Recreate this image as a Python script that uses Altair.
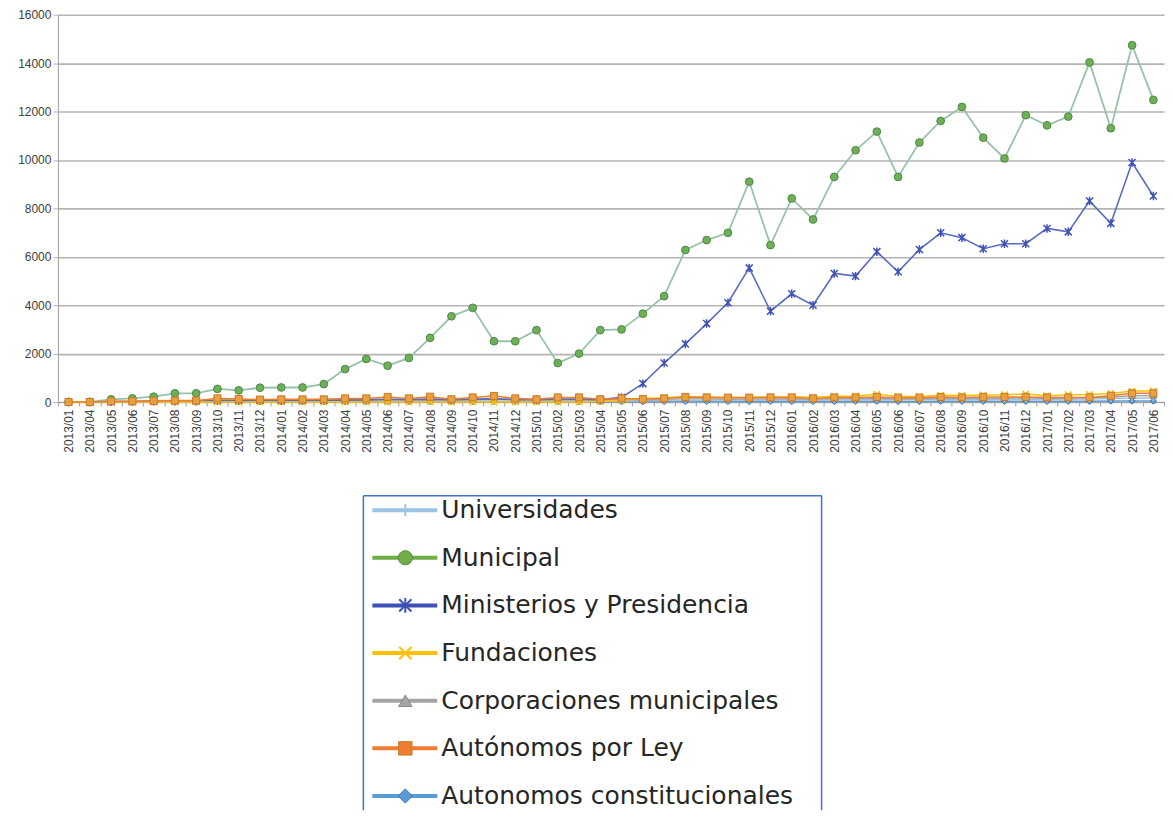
import altair as alt
import pandas as pd

periods = [
    "2013/01", "2013/04", "2013/05", "2013/06", "2013/07", "2013/08", "2013/09", "2013/10", "2013/11", "2013/12",
    "2014/01", "2014/02", "2014/03", "2014/04", "2014/05", "2014/06", "2014/07", "2014/08", "2014/09", "2014/10",
    "2014/11", "2014/12", "2015/01", "2015/02", "2015/03", "2015/04", "2015/05", "2015/06", "2015/07", "2015/08",
    "2015/09", "2015/10", "2015/11", "2015/12", "2016/01", "2016/02", "2016/03", "2016/04", "2016/05", "2016/06",
    "2016/07", "2016/08", "2016/09", "2016/10", "2016/11", "2016/12", "2017/01", "2017/02", "2017/03", "2017/04",
    "2017/05", "2017/06",
]

series_names = [
    "Universidades",
    "Municipal",
    "Ministerios y Presidencia",
    "Fundaciones",
    "Corporaciones municipales",
    "Autónomos por Ley",
    "Autonomos constitucionales",
]

universidades = [0, 0, 0, 10, 10, 10, 10, 20, 20, 20, 20, 20, 20, 30, 30, 30, 30, 40, 30, 40,
                 40, 30, 30, 40, 40, 30, 40, 50, 60, 70, 60, 60, 70, 70, 80, 70, 80, 80, 100, 80,
                 90, 100, 90, 100, 110, 120, 100, 110, 120, 140, 160, 170]
municipal = [0, 0, 110, 150, 220, 360, 360, 540, 480, 590, 600, 600, 740, 1360, 1780, 1500, 1820, 2650, 3540, 3890,
             2510, 2510, 2970, 1610, 2000, 2970, 3000, 3650, 4370, 6280, 6690, 6990, 9100, 6480, 8410, 7540, 9300,
             10400, 11170, 9300, 10720, 11610, 12190, 10920, 10060, 11850, 11430, 11790, 14030, 11310, 14740, 12480]
ministerios = [0, 0, 10, 20, 30, 40, 40, 60, 60, 70, 60, 70, 70, 80, 90, 100, 100, 110, 100, 110,
               130, 100, 100, 110, 110, 100, 190, 760, 1610, 2400, 3240, 4100, 5540, 3750, 4470, 4000, 5310,
               5200, 6210, 5380, 6300, 6990, 6790, 6330, 6540, 6540, 7170, 7030, 8300, 7380, 9890, 8510]
fundaciones = [0, 0, 0, 0, 0, 0, 0, 0, 0, 0, 0, 0, 0, 0, 0, 0, 0, 0, 0, 0,
               0, 0, 0, 0, 0, 20, 60, 150, 180, 230, 210, 200, 200, 210, 220, 200, 240, 250, 320, 230,
               230, 280, 270, 290, 300, 330, 260, 300, 310, 350, 450, 460]
corporaciones = [0, 0, 20, 20, 30, 40, 40, 80, 70, 60, 60, 70, 70, 90, 90, 120, 90, 130, 80, 110,
                 150, 90, 80, 120, 110, 80, 100, 80, 100, 140, 120, 110, 120, 130, 120, 110, 130, 130, 160, 120,
                 130, 150, 140, 150, 160, 180, 150, 170, 180, 200, 260, 270]
autonomos_ley = [0, 0, 30, 30, 50, 60, 60, 150, 120, 100, 110, 110, 110, 150, 150, 210, 150, 220, 110, 190,
                 250, 150, 110, 190, 190, 110, 150, 120, 150, 210, 190, 180, 180, 190, 190, 150, 190, 190, 210, 180,
                 180, 210, 190, 210, 210, 210, 190, 190, 190, 260, 360, 360]
autonomos_const = [0, 0, 0, 0, 0, 0, 0, 10, 10, 10, 10, 10, 10, 10, 10, 10, 10, 20, 10, 10,
                   20, 10, 10, 10, 10, 10, 10, 10, 20, 20, 20, 20, 20, 20, 20, 20, 20, 30, 30, 20,
                   20, 30, 30, 30, 30, 30, 30, 30, 30, 40, 40, 40]

values = {
    "Universidades": universidades,
    "Municipal": municipal,
    "Ministerios y Presidencia": ministerios,
    "Fundaciones": fundaciones,
    "Corporaciones municipales": corporaciones,
    "Autónomos por Ley": autonomos_ley,
    "Autonomos constitucionales": autonomos_const,
}

rows = []
for name in series_names:
    for p, v in zip(periods, values[name]):
        rows.append({"period": p, "serie": name, "value": v})
df = pd.DataFrame(rows)

PLUS = "M-1,0L1,0M0,-1L0,1"
XMARK = "M-1,-1L1,1M-1,1L1,-1"
STAR = "M-1,-1L1,1M-1,1L1,-1M0,-1.2L0,1.2"

styles = {
    "Universidades": dict(line="#9dc3e6", lw=1.5, leg="#9dc3e6", shape=PLUS, filled=False, fill="#9dc3e6", stroke="#9dc3e6", size=50, lsize=150),
    "Municipal": dict(line="#98c2aa", lw=1.8, leg="#70ad47", shape="circle", filled=True, fill="#6fae5a", stroke="#4c8a3e", size=60, lsize=200),
    "Ministerios y Presidencia": dict(line="#5a6cc0", lw=1.6, leg="#3f51b5", shape=STAR, filled=False, fill="#3f51b5", stroke="#3f51b5", size=50, lsize=150),
    "Fundaciones": dict(line="#ffc000", lw=1.5, leg="#ffc000", shape=XMARK, filled=False, fill="#ffc000", stroke="#ffc000", size=40, lsize=150),
    "Corporaciones municipales": dict(line="#a5a5a5", lw=1.5, leg="#a5a5a5", shape="triangle-up", filled=True, fill="#a5a5a5", stroke="#8a8a8a", size=40, lsize=180),
    "Autónomos por Ley": dict(line="#ed7d31", lw=1.5, leg="#ed7d31", shape="square", filled=True, fill="#e8a040", stroke="#c87828", size=50, lsize=180),
    "Autonomos constitucionales": dict(line="#5b9bd5", lw=1.5, leg="#5b9bd5", shape="diamond", filled=True, fill="#5b9bd5", stroke="#41719c", size=40, lsize=200),
}

x_axis = alt.Axis(
    title=None, labelAngle=-90, labelFont="Liberation Sans", labelFontSize=12, labelColor="#404040",
    tickBand="extent", tickSize=4, tickColor="#a0a0a0", domainColor="#a0a0a0", labelPadding=3,
    grid=False,
)
y_axis = alt.Axis(
    title=None, values=list(range(0, 16001, 2000)), format="d", labelFont="Liberation Sans", labelFontSize=12,
    labelColor="#404040", grid=True, gridColor="#b4b4b4", gridWidth=1.6, tickColor="#b4b4b4",
    tickSize=5, domainColor="#a0a0a0", labelPadding=2,
)
x_enc = alt.X("period:O", sort=periods, scale=alt.Scale(domain=periods), axis=x_axis)
y_enc = alt.Y("value:Q", scale=alt.Scale(domain=[0, 16000]), axis=y_axis)

draw_order = [
    "Autonomos constitucionales", "Universidades", "Corporaciones municipales",
    "Ministerios y Presidencia", "Municipal", "Fundaciones", "Autónomos por Ley",
]

layers = []
for name in draw_order:
    st = styles[name]
    base = alt.Chart(df).transform_filter(alt.datum.serie == name).encode(x=x_enc, y=y_enc)
    layers.append(base.mark_line(color=st["line"], strokeWidth=st["lw"]))
    if st["filled"]:
        pt = base.mark_point(shape=st["shape"], filled=True, fill=st["fill"], stroke=st["stroke"],
                             strokeWidth=1, size=st["size"], opacity=1)
    else:
        pt = base.mark_point(shape=st["shape"], filled=False, stroke=st["stroke"], strokeWidth=1.5,
                             size=st["size"], opacity=1)
    layers.append(pt)

main = alt.layer(*layers).properties(width=1108, height=388)

# Legend panel (its view is left-aligned with the main plot area)
leg_df = pd.DataFrame({"serie": series_names})
LX, BOX_W, LEG_H = 306, 459, 315
ly = alt.Y("serie:N", sort=series_names,
           scale=alt.Scale(type="point", domain=series_names, padding=0.3), axis=None)
frame = alt.Chart(leg_df.head(1))
leg_layers = [
    frame.mark_rule(color="#4472c4", strokeWidth=1.5).encode(
        x=alt.value(LX), x2=alt.value(LX + BOX_W), y=alt.value(0)),
    frame.mark_rule(color="#4472c4", strokeWidth=1.5).encode(
        x=alt.value(LX), y=alt.value(0), y2=alt.value(LEG_H)),
    frame.mark_rule(color="#4472c4", strokeWidth=1.5).encode(
        x=alt.value(LX + BOX_W), y=alt.value(0), y2=alt.value(LEG_H)),
]
for name in series_names:
    st = styles[name]
    b = alt.Chart(leg_df).transform_filter(alt.datum.serie == name)
    leg_layers.append(b.mark_rule(color=st["leg"], strokeWidth=4).encode(
        x=alt.value(LX + 9), x2=alt.value(LX + 74), y=ly))
    if st["filled"]:
        leg_layers.append(b.mark_point(shape=st["shape"], filled=True, fill=st["leg"], stroke=st["stroke"],
                                       strokeWidth=1, size=st["lsize"], opacity=1).encode(x=alt.value(LX + 42), y=ly))
    else:
        leg_layers.append(b.mark_point(shape=st["shape"], filled=False, stroke=st["leg"], strokeWidth=2,
                                       size=st["lsize"], opacity=1).encode(x=alt.value(LX + 42), y=ly))
    leg_layers.append(b.mark_text(align="left", baseline="middle", font="DejaVu Sans", fontSize=25,
                                  color="#262626").encode(x=alt.value(LX + 78), y=ly, text="serie:N"))

legend = alt.layer(*leg_layers).properties(width=LX + BOX_W, height=LEG_H)

chart = (
    alt.vconcat(main, legend, spacing=42)
    .properties(padding={"left": 9, "top": 0, "right": 0, "bottom": 0}, background="white")
    .configure_view(strokeWidth=0, stroke="transparent")
)

chart.save("out.html", embed_options={"renderer": "svg", "actions": False})
